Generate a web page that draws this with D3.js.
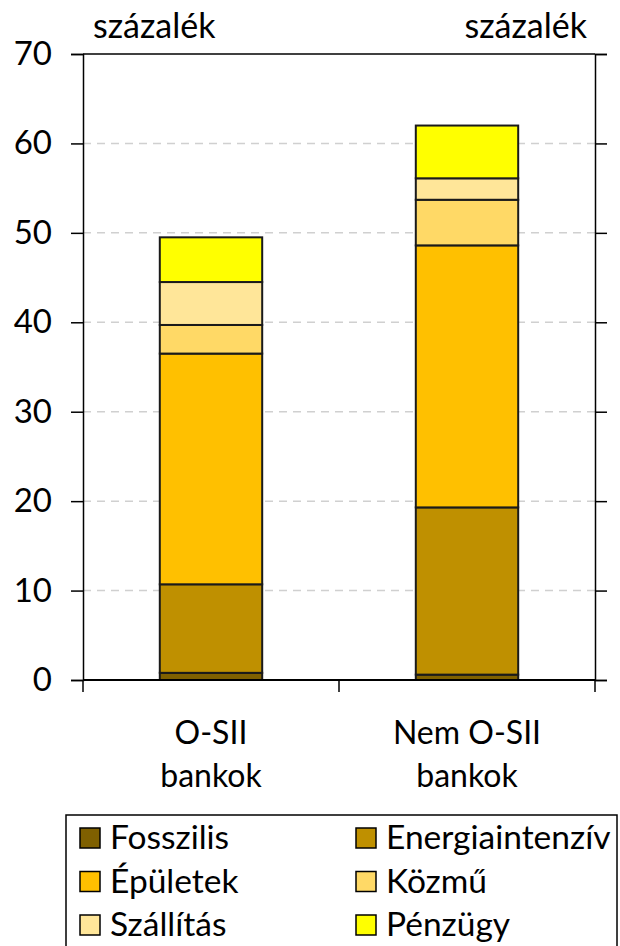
<!DOCTYPE html>
<html>
<head>
<meta charset="utf-8">
<script src="https://cdn.jsdelivr.net/npm/d3@7"></script>
<style>
  html, body { margin: 0; padding: 0; background: #fff; }
  svg { display: block; font-family: Lato, "Open Sans", sans-serif; }
</style>
</head>
<body>
<svg id="chart" width="620" height="946"></svg>
<script>
// Bank groups (two-line labels)
const categories = ["O-SII bankok", "Nem O-SII bankok"];
const categoryLines = [["O-SII", "bankok"], ["Nem O-SII", "bankok"]];

// Sectors, stacked bottom to top
const sectors = ["Fosszilis", "Energiaintenzív", "Épületek", "Közmű", "Szállítás", "Pénzügy"];
const sectorColors = ["#7F6000", "#BF9000", "#FFC000", "#FFD966", "#FFE699", "#FFFF00"];

// Share of exposures, percent
const fosszilis       = [0.8, 0.6];
const energiaintenziv = [9.9, 18.7];
const epuletek        = [25.8, 29.3];
const kozmu           = [3.2, 5.1];
const szallitas       = [4.8, 2.4];
const penzugy         = [5.0, 5.9];

const yTicks = [0, 10, 20, 30, 40, 50, 60, 70];
const unitLabel = "százalék";

const rows = categories.map((c, i) => ({
  cat: c,
  "Fosszilis": fosszilis[i],
  "Energiaintenzív": energiaintenziv[i],
  "Épületek": epuletek[i],
  "Közmű": kozmu[i],
  "Szállítás": szallitas[i],
  "Pénzügy": penzugy[i]
}));

const svg = d3.select("#chart");
const plotLeft = 83, plotRight = 595, plotTop = 54, plotBottom = 680;

const y = d3.scaleLinear().domain([0, 70]).range([plotBottom, plotTop]);
const x = d3.scaleBand().domain(categories).range([plotLeft, plotRight])
  .paddingInner(0.6).paddingOuter(0.3);
const color = d3.scaleOrdinal().domain(sectors).range(sectorColors);

// Dashed gridlines
svg.append("g").selectAll("line")
  .data(yTicks.filter(t => t > 0 && t < 70))
  .join("line")
  .attr("x1", plotLeft).attr("x2", plotRight)
  .attr("y1", d => y(d)).attr("y2", d => y(d))
  .attr("stroke", "#d0d0d0").attr("stroke-width", 1.5)
  .attr("stroke-dasharray", "8,6");

// Stacked bars
const stack = d3.stack().keys(sectors)(rows);
svg.append("g").selectAll("g")
  .data(stack)
  .join("g")
  .attr("fill", d => color(d.key))
  .selectAll("rect")
  .data(d => d)
  .join("rect")
  .attr("x", d => x(d.data.cat))
  .attr("width", x.bandwidth())
  .attr("y", d => y(d[1]))
  .attr("height", d => y(d[0]) - y(d[1]))
  .attr("stroke", "#1a1a1a").attr("stroke-width", 2);

// Left axis with outward ticks
const leftAxis = svg.append("g")
  .attr("transform", `translate(${plotLeft},0)`)
  .call(d3.axisLeft(y).tickValues(yTicks).tickSize(12).tickPadding(19).tickFormat(d3.format("d")));
leftAxis.selectAll("text").attr("font-size", 33).attr("fill", "#000")
  .attr("font-family", "Lato, sans-serif");

// Right axis, ticks only
const rightAxis = svg.append("g")
  .attr("transform", `translate(${plotRight},0)`)
  .call(d3.axisRight(y).tickValues(yTicks).tickSize(12).tickFormat(""));

[leftAxis, rightAxis].forEach(a => {
  a.select(".domain").attr("stroke", "#000").attr("stroke-width", 1.5);
  a.selectAll(".tick line").attr("stroke", "#000").attr("stroke-width", 1.5);
});

// Top border and baseline
svg.append("line").attr("x1", plotLeft).attr("x2", plotRight)
  .attr("y1", y(70)).attr("y2", y(70)).attr("stroke", "#000").attr("stroke-width", 1.5);
svg.append("line").attr("x1", plotLeft).attr("x2", plotRight)
  .attr("y1", y(0)).attr("y2", y(0)).attr("stroke", "#000").attr("stroke-width", 2);

// Category separators below the baseline
const bounds = [plotLeft, plotLeft + x.step(), plotRight];
svg.append("g").selectAll("line")
  .data(bounds).join("line")
  .attr("x1", d => d).attr("x2", d => d)
  .attr("y1", y(0)).attr("y2", y(0) + 12)
  .attr("stroke", "#000").attr("stroke-width", 1.5);

// Category labels
categories.forEach((c, i) => {
  const cx = x(c) + x.bandwidth() / 2;
  const t = svg.append("text")
    .attr("x", cx)
    .attr("text-anchor", "middle")
    .attr("font-size", 32).attr("fill", "#000");
  categoryLines[i].forEach((ln, j) => {
    t.append("tspan").attr("x", cx).attr("y", 744 + j * 43).text(ln);
  });
});

// Unit labels
svg.append("text").attr("x", 93).attr("y", 38)
  .attr("font-size", 34).text(unitLabel);
svg.append("text").attr("x", 587).attr("y", 38).attr("text-anchor", "end")
  .attr("font-size", 34).text(unitLabel);

// Legend
const lg = svg.append("g");
lg.append("rect").attr("x", 66).attr("y", 815).attr("width", 551).attr("height", 140)
  .attr("fill", "#fff").attr("stroke", "#000").attr("stroke-width", 1.5);
sectors.forEach((s, i) => {
  const col = i % 2, row = Math.floor(i / 2);
  const sx = col === 0 ? 80 : 356;
  const cy = 838 + row * 43.5;
  lg.append("rect").attr("x", sx).attr("y", cy - 10).attr("width", 20).attr("height", 20)
    .attr("fill", color(s)).attr("stroke", "#000").attr("stroke-width", 1.5);
  lg.append("text").attr("x", sx + 30).attr("y", cy + 11)
    .attr("font-size", 33.5).attr("fill", "#000").text(s);
});
</script>
</body>
</html>
